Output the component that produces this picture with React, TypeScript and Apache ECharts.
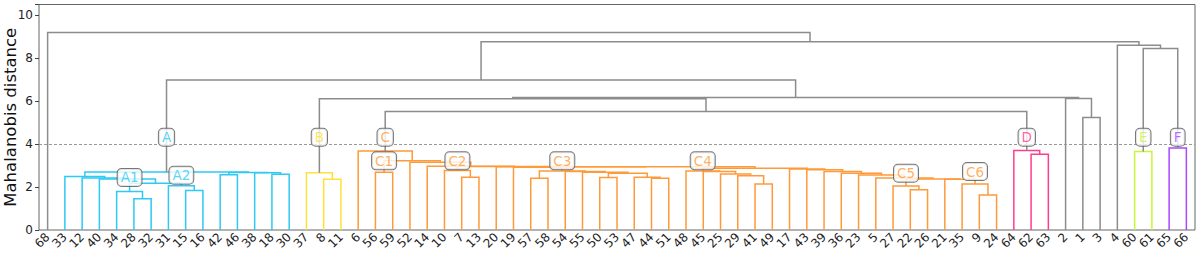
import React, { useEffect, useRef } from "react";
import * as echarts from "echarts";

// Linkage: [left child, right child, merge height, cluster]. Children are leaf ids or "#k" (k-th merge).
const merges: [string, string, number, string][] = [
  ["28", "32", 1.46, "A"], // #0
  ["34", "#0", 1.79, "A"], // #1
  ["15", "16", 1.84, "A"], // #2
  ["31", "#2", 2.06, "A"], // #3
  ["#1", "#3", 2.18, "A"], // #4
  ["40", "#4", 2.38, "A"], // #5
  ["12", "#5", 2.42, "A"], // #6
  ["33", "#6", 2.49, "A"], // #7
  ["42", "46", 2.57, "A"], // #8
  ["18", "30", 2.6, "A"], // #9
  ["38", "#9", 2.66, "A"], // #10
  ["#8", "#10", 2.68, "A"], // #11
  ["#7", "#11", 2.7, "A"], // #12
  ["8", "11", 2.36, "B"], // #13
  ["37", "#13", 2.67, "B"], // #14
  ["56", "59", 2.69, "C"], // #15
  ["7", "13", 2.46, "C"], // #16
  ["10", "#16", 2.77, "C"], // #17
  ["57", "58", 2.41, "C"], // #18
  ["44", "51", 2.41, "C"], // #19
  ["47", "#19", 2.46, "C"], // #20
  ["50", "53", 2.44, "C"], // #21
  ["#21", "#20", 2.64, "C"], // #22
  ["55", "#22", 2.69, "C"], // #23
  ["54", "#23", 2.72, "C"], // #24
  ["#18", "#24", 2.75, "C"], // #25
  ["41", "49", 2.14, "C"], // #26
  ["29", "#26", 2.53, "C"], // #27
  ["25", "#27", 2.61, "C"], // #28
  ["45", "#28", 2.72, "C"], // #29
  ["48", "#29", 2.75, "C"], // #30
  ["22", "26", 1.87, "C"], // #31
  ["27", "#31", 2.05, "C"], // #32
  ["9", "24", 1.63, "C"], // #33
  ["35", "#33", 2.14, "C"], // #34
  ["21", "#34", 2.36, "C"], // #35
  ["#32", "#35", 2.38, "C"], // #36
  ["5", "#36", 2.42, "C"], // #37
  ["23", "#37", 2.56, "C"], // #38
  ["36", "#38", 2.64, "C"], // #39
  ["39", "#39", 2.72, "C"], // #40
  ["43", "#40", 2.8, "C"], // #41
  ["17", "#41", 2.84, "C"], // #42
  ["#30", "#42", 2.88, "C"], // #43
  ["19", "#25", 2.92, "C"], // #44
  ["#44", "#43", 2.94, "C"], // #45
  ["20", "#45", 2.95, "C"], // #46
  ["#17", "#46", 2.955, "C"], // #47
  ["14", "#47", 2.97, "C"], // #48
  ["52", "#48", 3.15, "C"], // #49
  ["#15", "#49", 3.23, "C"], // #50
  ["6", "#50", 3.68, "C"], // #51
  ["62", "63", 3.53, "D"], // #52
  ["64", "#52", 3.7, "D"], // #53
  ["60", "61", 3.65, "E"], // #54
  ["65", "66", 3.82, "F"], // #55
  ["1", "3", 5.24, ""], // #56
  ["2", "#56", 6.12, ""], // #57
  ["#51", "#53", 5.52, ""], // #58
  ["#14", "#58", 6.11, ""], // #59
  ["#59", "#57", 6.17, ""], // #60
  ["#12", "#60", 6.98, ""], // #61
  ["#54", "#55", 8.45, ""], // #62
  ["4", "#62", 8.6, ""], // #63
  ["#61", "#63", 8.76, ""], // #64
  ["68", "#64", 9.2, ""], // #65
];

const clusterColors: Record<string, string> = {
  A: "#2ec9f5",
  B: "#fde23a",
  C: "#ff9a3a",
  D: "#ff3d8f",
  E: "#c8f53a",
  F: "#a848ff",
  "": "#8c8c8c",
};

// Cluster labels: [text, merge node, label height, cluster]
const clusterLabels: [string, string, number, string][] = [
  ["A", "#12", 4.32, "A"],
  ["B", "#14", 4.32, "B"],
  ["C", "#51", 4.32, "C"],
  ["D", "#53", 4.32, "D"],
  ["E", "#54", 4.32, "E"],
  ["F", "#55", 4.32, "F"],
  ["A1", "#1", 2.45, "A"],
  ["A2", "#3", 2.55, "A"],
  ["C1", "#15", 3.22, "C"],
  ["C2", "#17", 3.22, "C"],
  ["C3", "#25", 3.22, "C"],
  ["C4", "#30", 3.22, "C"],
  ["C5", "#32", 2.64, "C"],
  ["C6", "#34", 2.72, "C"],
];

const cutHeight = 4;
const yTicks = [0, 2, 4, 6, 8, 10];

function buildTree() {
  const root = "#" + (merges.length - 1);
  const order: string[] = [];
  const walk = (n: string) => {
    if (n.startsWith("#")) {
      const m = merges[+n.slice(1)];
      walk(m[0]);
      walk(m[1]);
    } else order.push(n);
  };
  walk(root);
  const pos: Record<string, number> = {};
  const ht: Record<string, number> = {};
  order.forEach((l, i) => {
    pos[l] = 5 + 10 * i;
    ht[l] = 0;
  });
  const links: { xl: number; xr: number; hl: number; hr: number; h: number; color: string }[] = [];
  merges.forEach((m, k) => {
    const id = "#" + k;
    pos[id] = (pos[m[0]] + pos[m[1]]) / 2;
    ht[id] = m[2];
    links.push({
      xl: pos[m[0]],
      xr: pos[m[1]],
      hl: ht[m[0]],
      hr: ht[m[1]],
      h: m[2],
      color: clusterColors[m[3]],
    });
  });
  return { order, pos, links };
}

export default function App() {
  const ref = useRef<HTMLDivElement>(null);
  useEffect(() => {
    if (!ref.current) return;
    const chart = echarts.init(ref.current, undefined, { renderer: "svg" });
    const { order, pos, links } = buildTree();
    const n = order.length;
    const font = "DejaVu Sans";
    chart.setOption({
      animation: false,
      backgroundColor: "#ffffff",
      grid: {
        left: 39,
        right: 5,
        top: 4.5,
        bottom: 26,
        containLabel: false,
        outerBoundsMode: "none",
        show: true,
        borderColor: "#666",
        borderWidth: 1,
        backgroundColor: "transparent",
      },
      xAxis: [
        { type: "value", min: 0, max: n * 10, show: false },
        {
          type: "category",
          data: order,
          boundaryGap: true,
          position: "bottom",
          axisLine: { show: false },
          axisTick: { show: false },
          axisLabel: {
            interval: 0,
            rotate: 45,
            fontSize: 12,
            color: "#222",
            fontFamily: font,
            margin: 5,
          },
          splitLine: { show: false },
        },
      ],
      yAxis: {
        type: "value",
        min: 0,
        max: 10.5,
        interval: 2,
        name: "Mahalanobis distance",
        nameLocation: "middle",
        nameGap: 20,
        nameMoveOverlap: false,
        nameTextStyle: { fontSize: 16.5, color: "#111", fontFamily: font },
        axisLine: { show: false },
        axisTick: { show: true, length: 4, lineStyle: { color: "#444" } },
        axisLabel: {
          fontSize: 12,
          color: "#222",
          fontFamily: font,
          margin: 6,
          formatter: (v: number) => (yTicks.includes(v) ? String(v) : ""),
        },
        splitLine: { show: false },
      },
      series: [
        {
          type: "custom",
          xAxisIndex: 0,
          yAxisIndex: 0,
          data: links.map((l) => [l.xl, l.xr, l.hl, l.hr, l.h]),
          renderItem: (params: any, api: any) => {
            const l = links[params.dataIndex];
            const pts = [
              api.coord([l.xl, l.hl]),
              api.coord([l.xl, l.h]),
              api.coord([l.xr, l.h]),
              api.coord([l.xr, l.hr]),
            ];
            return {
              type: "polyline",
              shape: { points: pts },
              style: { stroke: l.color, lineWidth: 1.5, fill: null },
            };
          },
          markLine: {
            silent: true,
            symbol: "none",
            label: { show: false },
            lineStyle: { color: "#999", type: [3, 2], width: 1 },
            data: [{ yAxis: cutHeight }],
          },
          z: 2,
        },
        {
          type: "scatter",
          xAxisIndex: 0,
          yAxisIndex: 0,
          symbolSize: 0,
          z: 5,
          data: clusterLabels.map(([t, node, h, c]) => ({
            value: [pos[node], h],
            name: t,
            label: {
              show: true,
              position: "inside",
              formatter: t,
              color: clusterColors[c],
              fontSize: 13.5,
              fontFamily: font,
              lineHeight: 14,
              backgroundColor: "#ffffff",
              borderColor: "#555",
              borderWidth: 1,
              borderRadius: 4,
              padding: [2, 3, 1, 3],
            },
          })),
        },
      ],
    });
    return () => chart.dispose();
  }, []);
  return (
    <div
      ref={ref}
      style={{ position: "fixed", left: 0, top: 0, width: 1200, height: 256 }}
    />
  );
}
